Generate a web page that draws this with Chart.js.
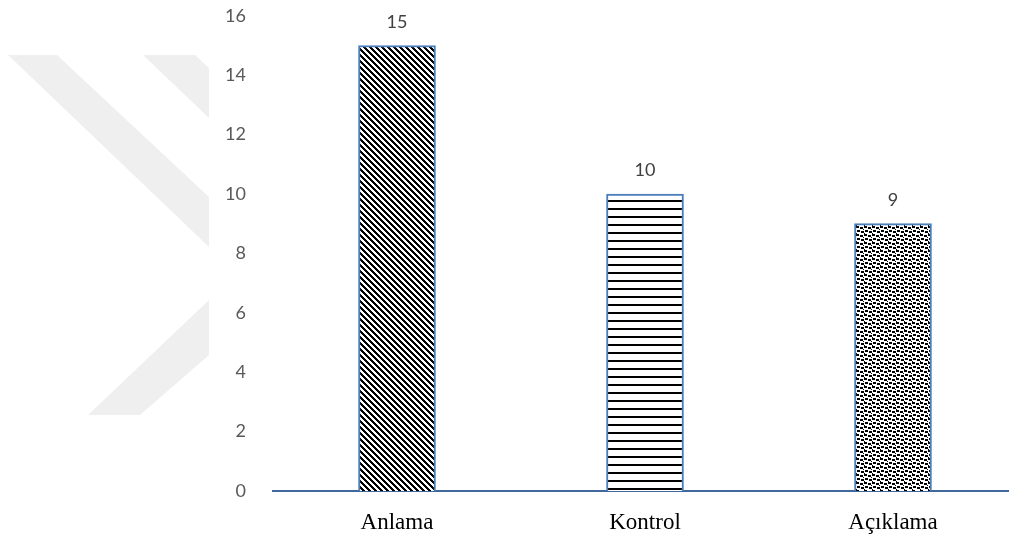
<!DOCTYPE html>
<html>
<head>
<meta charset="utf-8">
<script src="https://cdn.jsdelivr.net/npm/chart.js@4.4.0/dist/chart.umd.min.js"></script>
<style>
  html, body { margin: 0; padding: 0; background: #fff; overflow: hidden; }
  #wrap { width: 1009px; height: 538px; overflow: hidden; }
  #barChart { display: block; margin-top: -22px; }
</style>
</head>
<body>
<div id="wrap"><canvas id="barChart" width="1017" height="560"></canvas></div>
<script>
var categories = ["Anlama", "Kontrol", "Açıklama"];
var counts = [15, 10, 9];
var yTicks = [0, 2, 4, 6, 8, 10, 12, 14, 16];

// little tiles for the Excel-like fill patterns
function makeTile(size, paint) {
    var c = document.createElement('canvas');
    c.width = size; c.height = size;
    var g = c.getContext('2d');
    g.fillStyle = '#fff';
    g.fillRect(0, 0, size, size);
    g.fillStyle = '#000';
    paint(g, size);
    return document.getElementById('barChart').getContext('2d').createPattern(c, 'repeat');
}

var diagPattern = makeTile(6, function (g, n) {
    for (var y = 0; y < n; y++)
        for (var x = 0; x < n; x++)
            if ((x - y + n) % n < 3) g.fillRect(x, y, 1, 1);
});
var linePattern = makeTile(8, function (g) {
    g.fillRect(0, 6, 8, 2);
});
var confettiPattern = makeTile(8, function (g) {
    g.fillRect(0, 0, 3, 2);
    g.fillRect(4, 1, 3, 2);
    g.fillRect(1, 4, 3, 2);
    g.fillRect(5, 5, 3, 2);
    g.fillRect(7, 3, 1, 1);
    g.fillRect(0, 7, 1, 1);
});

// faint watermark in the back (canvas is shifted up 22px)
var watermark = {
    id: 'watermark',
    beforeDraw: function (chart) {
        var ctx = chart.ctx;
        ctx.save();
        ctx.translate(0, 22);
        ctx.beginPath();
        ctx.rect(0, 0, 209, 538);
        ctx.clip();
        ctx.fillStyle = '#efefef';
        [[[8, 55], [57, 55], [209, 197], [209, 247]],
         [[143, 55], [195, 55], [209, 68], [209, 118]],
         [[209, 300], [209, 355], [140, 415], [88, 415]]].forEach(function (p) {
            ctx.beginPath();
            ctx.moveTo(p[0][0], p[0][1]);
            for (var i = 1; i < p.length; i++) ctx.lineTo(p[i][0], p[i][1]);
            ctx.closePath();
            ctx.fill();
        });
        ctx.restore();
    }
};

// value labels above the bars
var valueLabels = {
    id: 'valueLabels',
    afterDatasetsDraw: function (chart) {
        var ctx = chart.ctx;
        ctx.save();
        ctx.font = '18px Lato';
        ctx.fillStyle = '#404040';
        ctx.textAlign = 'center';
        ctx.textBaseline = 'alphabetic';
        chart.getDatasetMeta(0).data.forEach(function (bar, i) {
            ctx.fillText(counts[i], bar.x, bar.y - 18);
        });
        ctx.restore();
    }
};

var ctx = document.getElementById('barChart').getContext('2d');
var chart = new Chart(ctx, {
    type: 'bar',
    data: {
        labels: categories,
        datasets: [{
            data: counts,
            backgroundColor: [diagPattern, linePattern, confettiPattern],
            borderColor: '#4a7ebb',
            borderWidth: 2,
            borderSkipped: 'bottom',
            barThickness: 77
        }]
    },
    options: {
        responsive: false,
        animation: false,
        layout: { padding: 0 },
        plugins: {
            legend: { display: false },
            tooltip: { enabled: false }
        },
        scales: {
            x: {
                grid: { display: false, drawTicks: false },
                border: { display: true, color: '#41689c', width: 2 },
                ticks: {
                    color: '#000',
                    font: { family: 'Liberation Serif', size: 23 },
                    padding: 18
                },
                afterFit: function (scale) { scale.height = 47; }
            },
            y: {
                min: 0,
                max: 16,
                grid: { display: false, drawTicks: false },
                border: { display: false },
                afterBuildTicks: function (scale) {
                    scale.ticks = yTicks.map(function (v) { return { value: v }; });
                },
                ticks: {
                    color: '#595959',
                    font: { family: 'Lato', size: 18 },
                    padding: 27
                },
                afterFit: function (scale) { scale.width = 273; }
            }
        }
    },
    plugins: [watermark, valueLabels]
});
</script>
</body>
</html>
